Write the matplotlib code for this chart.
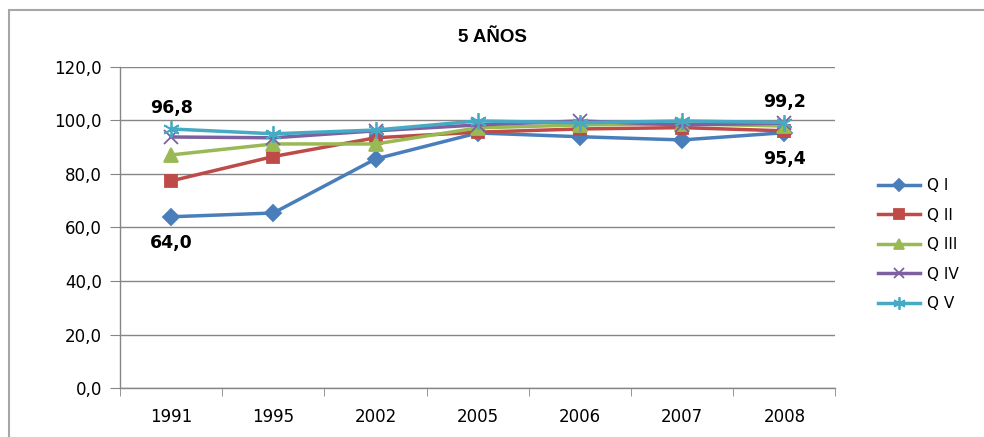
"""
5 AÑOS chart, recreated from an Excel line chart.
"""
import matplotlib.pyplot as plt
import numpy as np

plt.rcParams['font.family'] = ['DejaVu Sans']

years = ['1991', '1995', '2002', '2005', '2006', '2007', '2008']
series_names = ['Q I', 'Q II', 'Q III', 'Q IV', 'Q V']
q1 = [64.0, 65.4, 85.6, 95.3, 93.9, 92.7, 95.4]
q2 = [77.4, 86.5, 93.5, 95.6, 96.8, 97.3, 96.1]
q3 = [87.1, 91.2, 91.2, 97.2, 98.3, 98.7, 97.9]
q4 = [93.8, 93.5, 96.1, 98.3, 99.8, 98.3, 99.0]
q5 = [96.8, 95.0, 96.4, 99.8, 99.1, 99.8, 99.2]
yticks = [0, 20, 40, 60, 80, 100, 120]

colors = ['#4A7EBB', '#BE4B48', '#98B954', '#7D60A0', '#46AAC5']
markers = ['D', 's', '^', 'x', (6, 2, 0)]
msizes = [8, 9, 10, 10, 12]

fig = plt.figure(figsize=(9.84, 4.37), dpi=100)
ax = fig.add_axes([0.122, 0.112, 0.727, 0.735])

x = np.arange(len(years))
for vals, name, c, m, ms in zip([q1, q2, q3, q4, q5], series_names, colors, markers, msizes):
    ax.plot(x, vals, color=c, linewidth=2.5, marker=m, markersize=ms,
            markeredgewidth=1.3, label=name)

# data labels
lab_kw = dict(ha='center', va='center', fontsize=12.5, fontweight='bold',
              textcoords='offset points')
ax.annotate('96,8', (0, q5[0]), xytext=(0, 15), **lab_kw)
ax.annotate('64,0', (0, q1[0]), xytext=(0, -19), **lab_kw)
ax.annotate('99,2', (6, q5[6]), xytext=(0, 15), **lab_kw)
ax.annotate('95,4', (6, q1[6]), xytext=(0, -19), **lab_kw)

ax.set_xlim(-0.5, len(years) - 0.5)
ax.set_ylim(0, 120)
ax.set_yticks(yticks)
ax.set_yticklabels([f'{v:.1f}'.replace('.', ',') for v in yticks], fontsize=12)
ax.set_xticks(x)
ax.set_xticklabels(years, fontsize=12)
ax.set_xticks(np.arange(-0.5, len(years)), minor=True)
ax.tick_params(axis='x', which='major', length=0, pad=14)
ax.tick_params(axis='x', which='minor', length=6, color='#868686')
ax.tick_params(axis='y', length=7, color='#868686', pad=6)

ax.grid(axis='y', color='#868686', linewidth=1)
ax.set_axisbelow(True)
for s in ['top', 'right']:
    ax.spines[s].set_visible(False)
for s in ['left', 'bottom']:
    ax.spines[s].set_color('#868686')
    ax.spines[s].set_linewidth(1)

fig.text(0.5, 0.915, '5 AÑOS', ha='center', va='center', fontsize=13.5,
         fontweight='bold', family='Liberation Sans')

fig.legend(loc='center left', bbox_to_anchor=(0.878, 0.44), frameon=False,
           fontsize=11, labelspacing=0.95, handlelength=2.8, handletextpad=0.4,
           markerscale=0.75)

# outer chart-area border (top and left edges visible in the crop)
fig.patches.append(plt.Rectangle((9 / 984, -0.05), 1.1, 1 - 10 / 437 + 0.05,
                                 transform=fig.transFigure, fill=False,
                                 edgecolor='#A6A6A6', linewidth=1.5))

fig.savefig('out.png', dpi=100)
